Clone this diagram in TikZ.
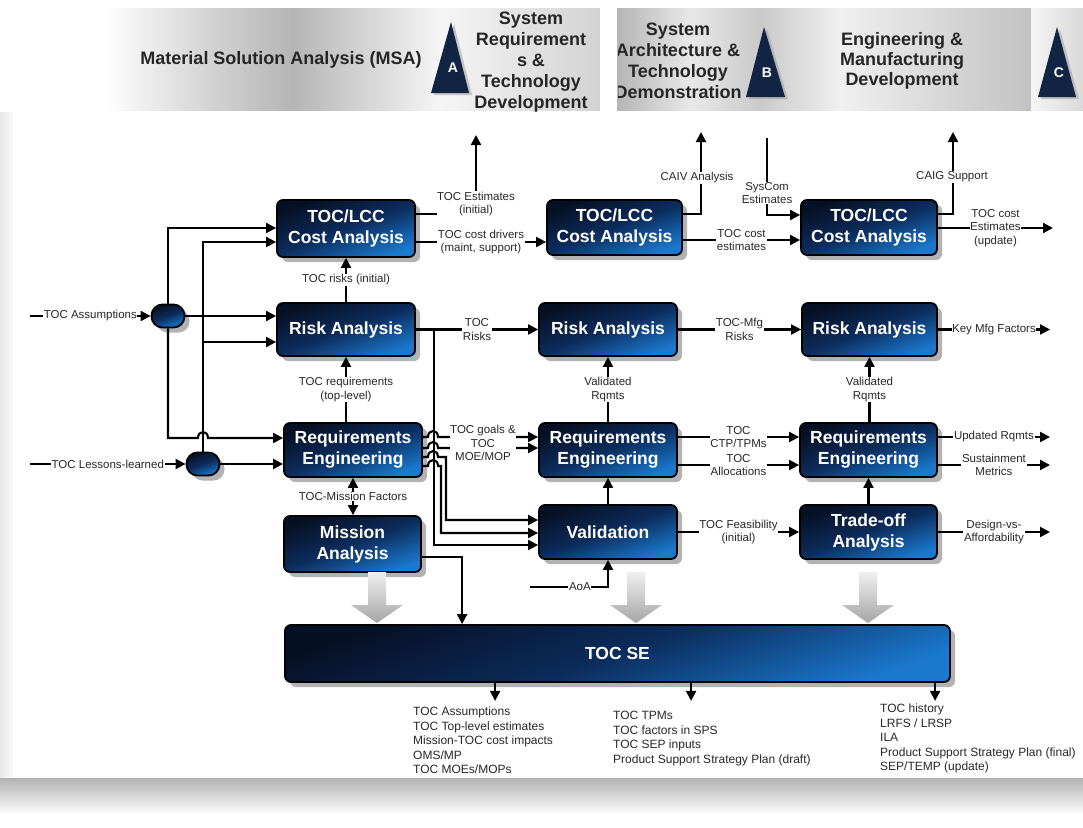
\documentclass[tikz,border=0pt]{standalone}
\usepackage{fontspec}
\setmainfont{Liberation Sans}
\usetikzlibrary{arrows.meta,calc,shadows}
\definecolor{navyA}{RGB}{6,16,36}
\definecolor{navyB}{RGB}{12,44,92}
\definecolor{navyC}{RGB}{26,120,205}
\definecolor{tri}{RGB}{18,36,68}
\definecolor{ink}{RGB}{40,40,40}
\begin{document}
\begin{tikzpicture}[x=1pt,y=-1pt,
  stagebox/.style={draw=black, line width=1.8pt, rounded corners=6pt,
    top color=navyA, bottom color=navyC, middle color=navyB, shading angle=20,
    drop shadow={shadow xshift=5pt, shadow yshift=-5pt, fill=black!55, opacity=0.55},
    text=white, font=\bfseries\fontsize{17.5}{21}\selectfont, align=center, inner sep=0pt},
  junction/.style={stagebox, rounded corners=11pt, minimum width=33pt, minimum height=23pt},
  conn/.style={line width=2.1pt, -{Triangle[length=10pt,width=10pt]}},
  twoway/.style={line width=2.1pt, {Triangle[length=10pt,width=10pt]}-{Triangle[length=10pt,width=10pt]}},
  lbl/.style={fill=white, inner sep=0.6pt, text=ink, align=center, font=\fontsize{11.5}{13.5}\selectfont},
  phase/.style={font=\bfseries\fontsize{18}{20.8}\selectfont, align=center, text=black!85},
  milestone/.style={fill=tri, drop shadow={shadow xshift=3pt,shadow yshift=-2pt,fill=black!40,opacity=.5}},
  msletter/.style={text=white, font=\bfseries\fontsize{14}{16}\selectfont},
  outlist/.style={anchor=north west, inner sep=0pt, align=left, text=ink, font=\fontsize{12}{14.5}\selectfont},
  feed/.pic={\shade[top color=gray!12, bottom color=gray!70]
     (-9,0) -- (9,0) -- (9,33) -- (26,33) -- (0,51) -- (-26,33) -- (-9,33) -- cycle;}
]
\useasboundingbox (0,0) rectangle (1083,827);
\fill[white] (0,0) rectangle (1083,827);
% panel edge shadows
\shade[left color=gray!18, right color=gray!5] (0,112) rectangle (13,800);
\shade[top color=gray!60, bottom color=white] (0,778) rectangle (1083,815);

% phase band
\foreach \xa/\xb/\ca/\cb in {
  105/200/white/gray!32, 200/292/gray!32/gray!58, 292/440/gray!58/gray!8,
  440/600/gray!8/gray!35, 600/617/white/white, 617/690/gray!58/gray!18,
  690/760/gray!18/gray!42, 760/840/gray!42/gray!12, 840/1031/gray!12/gray!48,
  1031/1083/gray!8/gray!30}
  \shade[left color=\ca, right color=\cb] (\xa,8) rectangle (\xb+0.5,110);

\node[phase] (msa) at (281,60) {Material Solution Analysis (MSA)};
\node[phase, font=\bfseries\fontsize{18}{21}\selectfont] (srtd) at (531,62)
  {System\\Requirement\\s \&\\Technology\\Development};
\begin{scope}
  \clip (618,8) rectangle (760,110);
  \node[phase] (satd) at (678,61) {System\\Architecture \&\\Technology\\Demonstration};
\end{scope}
\node[phase, font=\bfseries\fontsize{18}{20}\selectfont] (emd) at (902,61)
  {Engineering \&\\Manufacturing\\Development};

\fill[milestone] (451,22) -- (469,93) -- (431,93) -- cycle;
\node[msletter] (msA) at (453,68) {A};
\fill[milestone] (764,27) -- (785,97) -- (746,97) -- cycle;
\node[msletter] (msB) at (767,73) {B};
\fill[milestone] (1057,27) -- (1076,97) -- (1038,97) -- cycle;
\node[msletter] (msC) at (1059,73) {C};

% process boxes
\node[stagebox, minimum width=138pt, minimum height=57pt] (cost1) at (346,228.5) {TOC/LCC\\Cost Analysis};
\node[stagebox, minimum width=138pt, minimum height=53pt] (risk1) at (346,329.5) {Risk Analysis};
\node[stagebox, minimum width=138pt, minimum height=54pt] (req1) at (353,450) {Requirements\\Engineering};
\node[stagebox, minimum width=137pt, minimum height=56pt] (mission) at (352.5,544) {Mission\\Analysis};

\node[stagebox, minimum width=135pt, minimum height=55pt] (cost2) at (614.5,227.5) {TOC/LCC\\Cost Analysis};
\node[stagebox, minimum width=138pt, minimum height=53pt] (risk2) at (608,329.5) {Risk Analysis};
\node[stagebox, minimum width=138pt, minimum height=54pt] (req2) at (608,450) {Requirements\\Engineering};
\node[stagebox, minimum width=138pt, minimum height=54pt] (valid) at (608,532) {Validation};

\node[stagebox, minimum width=136pt, minimum height=55pt] (cost3) at (869,227.5) {TOC/LCC\\Cost Analysis};
\node[stagebox, minimum width=135pt, minimum height=53pt] (risk3) at (869.5,329.5) {Risk Analysis};
\node[stagebox, minimum width=137pt, minimum height=54pt] (req3) at (868.5,450) {Requirements\\Engineering};
\node[stagebox, minimum width=137pt, minimum height=54pt] (trade) at (868.5,532) {Trade-off\\Analysis};

% flows into the SE box
\pic (f1) at (377,572) {feed};
\pic (f2) at (636,572) {feed};
\pic (f3) at (868,572) {feed};

\node[stagebox, minimum width=665pt, minimum height=57pt] (se) at (617.5,653.5) {TOC SE};

\node[junction] (ov1) at (168,316) {};
\node[junction] (ov2) at (203,464) {};

% free ends
\coordinate (inA) at (30,316);
\coordinate (inL) at (30,464);
\coordinate (up1) at (476,135);
\coordinate (up2) at (701,132);
\coordinate (up3) at (953,132);
\coordinate (sys) at (767,138);
\coordinate (aoa) at (530,587);
\coordinate (o1) at (1053,228);
\coordinate (o2) at (1050,329.5);
\coordinate (o3) at (1050,437);
\coordinate (o4) at (1050,465);
\coordinate (o5) at (1050,532);

% inputs
\draw[conn] (inA) -- (ov1.west) node[lbl,midway] {TOC Assumptions};
\draw[conn] (inL) -- (ov2.west) node[lbl,midway] {TOC Lessons-learned};
\draw[conn] (ov1.north) |- ($(cost1.west)+(0,-0.5)$);
\draw[conn] (ov1.east) -- (ov1.east -| risk1.west);
\draw[conn] (ov1.south) -- (168,438) -- (198,438) .. controls (198,430) and (208,430) .. (208,438) -- ($(req1.west)+(0,-12)$);
\draw[conn] (ov2.north) |- ($(cost1.west)+(0,13.5)$);
\draw[conn] ($(risk1.west)+(-74,12.5)$) -- ($(risk1.west)+(0,12.5)$);
\draw[conn] (ov2.east) -- (ov2.east -| req1.west);

% column one
\draw[conn] ($(cost1.east)+(0,-14.5)$) -| (up1);
\draw[conn] ($(cost1.east)+(0,13.5)$) -- ($(cost2.west)+(0,14.5)$)
  node[lbl,midway] {TOC cost drivers\\(maint, support)};
\draw[conn] (risk1.north) -- (cost1.south) node[lbl,midway] {TOC risks (initial)};
\draw[conn] (risk1.south |- req1.north) -- (risk1.south)
  node[lbl,midway] {TOC requirements\\(top-level)};
\draw[twoway] (req1.south) -- (req1.south |- mission.north)
  node[lbl,midway] {TOC-Mission Factors};
\draw[conn] ($(mission.east)+(0,13)$) -| ($(se.north west)+(178,0)$);
\draw[conn] (risk1.east) -- (risk2.west) node[lbl,midway] {TOC\\Risks};
\coordinate (rbus) at ($(risk1.east)+(18,0)$);
\draw[conn] (rbus) |- ($(valid.west)+(0,13)$);
\draw[conn] ($(req1.east)+(0,-13)$) -- (428,437) .. controls (428,429) and (438,429) .. (438,437) -- ($(req2.west)+(0,-13)$);
\draw[conn] ($(req1.east)+(0,-2)$) -- (428,448) .. controls (428,440) and (438,440) .. (438,448) -- ($(req2.west)+(0,-2)$);
\draw[conn] ($(req1.east)+(0,7)$) -- (428,457) .. controls (428,449) and (438,449) .. (438,457) -- (446,457) -- (446,520) -- ($(valid.west)+(0,-12)$);
\draw[conn] ($(req1.east)+(0,16)$) -- (428,466) .. controls (428,458) and (438,458) .. (438,466) -- (441,466) -- (441,533) -- ($(valid.west)+(0,1)$);

% column two
\draw[conn] ($(cost2.east)+(0,-13.5)$) -| (up2);
\draw[conn] ($(cost2.east)+(0,12.5)$) -- ($(cost3.west)+(0,12.5)$)
  node[lbl,midway] {TOC cost\\estimates};
\draw[conn] (sys) |- ($(cost3.west)+(0,-12.5)$);
\draw[conn] (risk2.east) -- (risk3.west) node[lbl,midway] {TOC-Mfg\\Risks};
\draw[conn] (req2.north) -- (risk2.south) node[lbl,midway] {Validated\\Rqmts};
\draw[conn] ($(req2.east)+(0,-13)$) -- ($(req3.west)+(0,-13)$) node[lbl,midway] {TOC\\CTP/TPMs};
\draw[conn] ($(req2.east)+(0,15)$) -- ($(req3.west)+(0,15)$) node[lbl,midway] {TOC\\Allocations};
\draw[conn] (valid.north) -- (req2.south);
\draw[conn] (valid.east) -- (trade.west) node[lbl,midway] {TOC Feasibility\\(initial)};
\draw[conn] (aoa) -| (valid.south) node[lbl,pos=0.32] {AoA};

% column three
\draw[conn] ($(cost3.east)+(0,-13.5)$) -| (up3);
\draw[conn] ($(cost3.east)+(0,0.5)$) -- (o1) node[lbl,midway] {TOC cost\\Estimates\\(update)};
\draw[conn] (risk3.east) -- (o2) node[lbl,midway] {Key Mfg Factors};
\draw[conn] (risk3.south |- req3.north) -- (risk3.south) node[lbl,midway] {Validated\\Rqmts};
\draw[conn] ($(req3.east)+(0,-13)$) -- (o3) node[lbl,midway] {Updated Rqmts};
\draw[conn] ($(req3.east)+(0,15)$) -- (o4) node[lbl,midway] {Sustainment\\Metrics};
\draw[conn] (trade.north) -- (req3.south);
\draw[conn] (trade.east) -- (o5) node[lbl,midway] {Design-vs-\\Affordability};

% corner labels
\node[lbl] (lEst) at (476,204) {TOC Estimates\\(initial)};
\node[lbl] (lCaiv) at (697,178) {CAIV Analysis};
\node[lbl] (lSys) at (767,193) {SysCom\\Estimates};
\node[lbl] (lCaig) at (952,177) {CAIG Support};
\node[lbl] (lGoals) at (483,443) {TOC goals \&\\TOC\\MOE/MOP};

% SE products
\draw[conn] ($(se.south west)+(211,0)$) -- ++(0,18);
\draw[conn] ($(se.south west)+(407,0)$) -- ++(0,18);
\draw[conn] ($(se.south west)+(651,0)$) -- ++(0,18);
\node[outlist] (prod1) at (413,707) {TOC Assumptions\\TOC Top-level estimates\\Mission-TOC cost impacts\\OMS/MP\\TOC MOEs/MOPs};
\node[outlist] (prod2) at (613,711) {TOC TPMs\\TOC factors in SPS\\TOC SEP inputs\\Product Support Strategy Plan (draft)};
\node[outlist] (prod3) at (880,704) {TOC history\\LRFS / LRSP\\ILA\\Product Support Strategy Plan (final)\\SEP/TEMP (update)};
\end{tikzpicture}
\end{document}
